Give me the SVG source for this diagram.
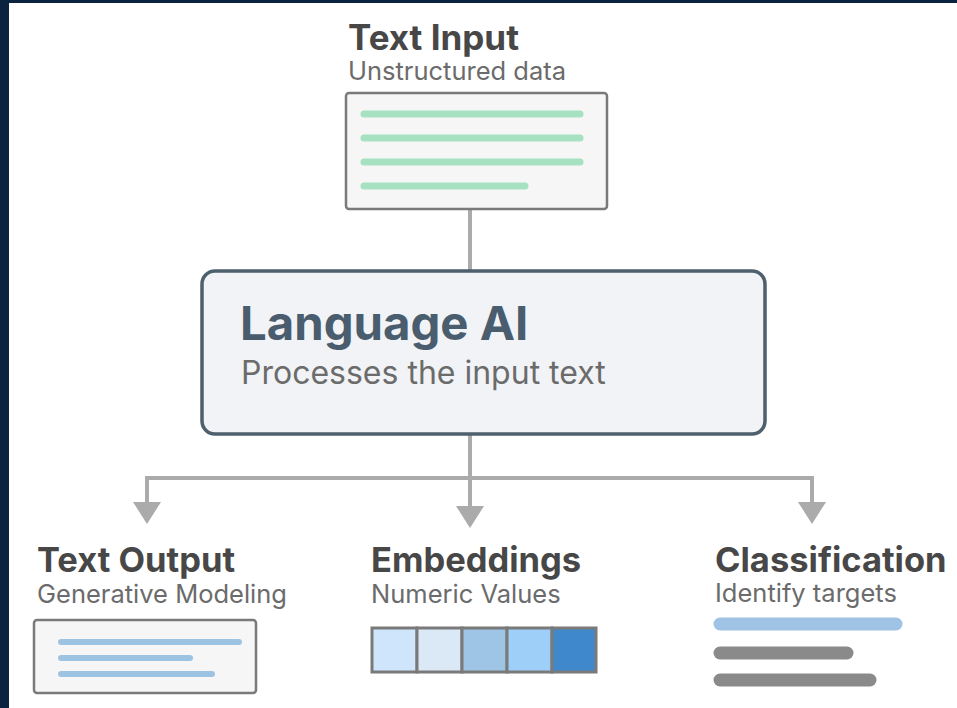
<svg xmlns="http://www.w3.org/2000/svg" width="957" height="708" viewBox="0 0 957 708">
<defs>
<style>
.title{font-family:Inter,"Liberation Sans",sans-serif;font-weight:700;fill:#474747}
.sub{font-family:Inter,"Liberation Sans",sans-serif;font-weight:400;fill:#6b6b6b}
.card{fill:#f6f6f6;stroke:#7a7a7a;stroke-width:2.5}
.gl{stroke:#a6e2c1;stroke-width:7;stroke-linecap:round}
.bl{stroke:#9dc3e3;stroke-width:6;stroke-linecap:round}
.conn{stroke:#ababab;stroke-width:4;fill:none}
.cell{stroke:#7a7a7a;stroke-width:3}
.head{fill:#ababab}
</style>
</defs>
<rect x="0" y="0" width="957" height="708" fill="#ffffff"/>
<rect x="0" y="0" width="957" height="3" fill="#0c2340"/>
<rect x="0" y="0" width="9" height="708" fill="#0c2340"/>

<g id="connectors">
<line class="conn" x1="470" y1="210" x2="470" y2="271"/>
<line class="conn" x1="470" y1="435" x2="470" y2="506"/>
<polyline class="conn" points="147,502 147,478 812,478 812,502"/>
<path class="head" d="M133,502 L161,502 L147,524 Z"/>
<path class="head" d="M456,506 L484,506 L470,528 Z"/>
<path class="head" d="M798,502 L826,502 L812,524 Z"/>
</g>

<g id="text-input">
<text class="title" x="348" y="50" font-size="35">Text Input</text>
<text class="sub" x="348" y="80" font-size="25.5">Unstructured data</text>
<rect class="card" x="346" y="93" width="261" height="116" rx="3"/>
<line class="gl" x1="364" y1="114" x2="580" y2="114"/>
<line class="gl" x1="364" y1="138" x2="580" y2="138"/>
<line class="gl" x1="364" y1="162" x2="580" y2="162"/>
<line class="gl" x1="364" y1="186" x2="525" y2="186"/>
</g>

<g id="language-ai">
<rect x="202" y="271" width="563" height="163" rx="13" fill="#f1f3f6" stroke="#4e5f6e" stroke-width="3.5"/>
<text x="240" y="340" font-family="Inter,'Liberation Sans',sans-serif" font-weight="700" font-size="47.3" fill="#4a5d6e">Language AI</text>
<text class="sub" x="241" y="384" font-size="32">Processes the input text</text>
</g>

<g id="text-output">
<text class="title" x="37" y="572" font-size="34.5">Text Output</text>
<text class="sub" x="37" y="603" font-size="25.5">Generative Modeling</text>
<rect class="card" x="34" y="620" width="222" height="73" rx="3"/>
<line class="bl" x1="61" y1="642" x2="239" y2="642"/>
<line class="bl" x1="61" y1="658" x2="190" y2="658"/>
<line class="bl" x1="61" y1="674" x2="212" y2="674"/>
</g>

<g id="embeddings">
<text class="title" x="371" y="572" font-size="34.5">Embeddings</text>
<text class="sub" x="371" y="603" font-size="25.5">Numeric Values</text>
<rect class="cell" x="372" y="628" width="45" height="44" fill="#cfe5fb"/>
<rect class="cell" x="417" y="628" width="45" height="44" fill="#dbe8f6"/>
<rect class="cell" x="462" y="628" width="45" height="44" fill="#9fc5e6"/>
<rect class="cell" x="507" y="628" width="45" height="44" fill="#9ecff9"/>
<rect class="cell" x="552" y="628" width="44" height="44" fill="#3f88cc"/>
</g>

<g id="classification">
<text class="title" x="715" y="572" font-size="34.5">Classification</text>
<text class="sub" x="715" y="602" font-size="25.5">Identify targets</text>
<line stroke="#9fc3e4" stroke-width="13" stroke-linecap="round" x1="720" y1="624" x2="896" y2="624"/>
<line stroke="#8a8a8a" stroke-width="13" stroke-linecap="round" x1="720" y1="653" x2="847" y2="653"/>
<line stroke="#8a8a8a" stroke-width="13" stroke-linecap="round" x1="720" y1="680" x2="870" y2="680"/>
</g>
</svg>
